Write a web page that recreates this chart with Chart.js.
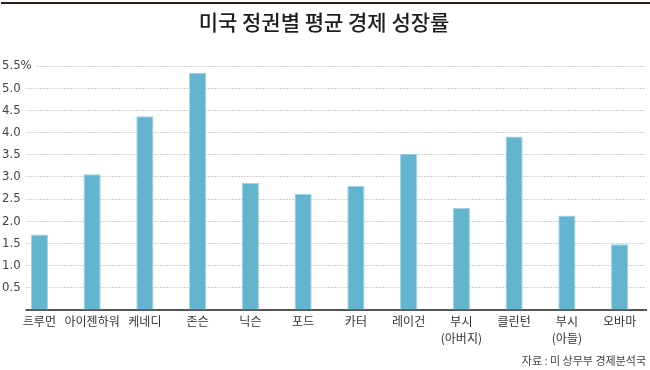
<!DOCTYPE html>
<html>
<head>
<meta charset="utf-8">
<script src="https://cdn.jsdelivr.net/npm/chart.js@4/dist/chart.umd.min.js"></script>
<style>
  body { margin: 0; background: #fff; }
  #wrap { position: relative; width: 650px; height: 370px; }
  #topline { position: absolute; left: 1px; right: 0; top: 2px; height: 2px; background: #2b1d17; }
</style>
</head>
<body>
<div id="wrap">
  <canvas id="mycanvas"></canvas>
  <div id="topline"></div>
</div>
<script>
// 정권별 평균 경제 성장률 (%)
var presidents = ['트루먼', '아이젠하워', '케네디', '존슨', '닉슨', '포드', '카터', '레이건',
	['부시', '(아버지)'], '클린턴', ['부시', '(아들)'], '오바마'];
var growth = [1.7, 3.06, 4.37, 5.35, 2.86, 2.62, 2.8, 3.52, 2.3, 3.91, 2.13, 1.48];
var yMax = 5.5;
var yStep = 0.5;
var titleText = '미국 정권별 평균 경제 성장률';
var sourceText = '자료 : 미 상무부 경제분석국';

var chartdata = {
	labels: presidents,
	datasets: [
		{
			label: '성장률',
			data: growth,
			backgroundColor: '#63b4cf',
			borderColor: '#9ed2e4',
			borderWidth: 1,
			categoryPercentage: 1,
			barPercentage: 0.325
		}
	]
};

var ctx = document.getElementById('mycanvas');
var BarGraph = new Chart(ctx, {
	type: 'bar',
	data: chartdata,
	options: {
		responsive: true,
		maintainAspectRatio: false,
		animation: false,
		layout: { padding: { left: 2, right: 4, top: 0, bottom: 0 } },
		plugins: {
			legend: { display: false },
			tooltip: { enabled: false },
			title: {
				display: true,
				text: titleText,
				color: '#1e1e1e',
				font: { family: '"Noto Sans CJK KR", sans-serif', size: 21, weight: 500, lineHeight: 1.2 },
				padding: { top: 9.9, bottom: 30.9 }
			},
			subtitle: {
				display: true,
				position: 'bottom',
				align: 'end',
				text: sourceText,
				color: '#444',
				font: { family: '"Noto Sans CJK KR", sans-serif', size: 11, lineHeight: 1.2 },
				padding: { top: 4.4, bottom: 2.8 }
			}
		},
		scales: {
			x: {
				grid: { display: false, drawTicks: false },
				border: { display: true, color: '#555', width: 2 },
				ticks: {
					color: '#333',
					padding: 3,
					maxRotation: 0,
					autoSkip: false,
					font: { family: '"Noto Sans CJK KR", sans-serif', size: 12, lineHeight: 1.4 }
				}
			},
			y: {
				min: 0,
				max: yMax,
				afterFit: function(scale) { scale.width = 11; },
				grid: {
					drawTicks: false,
					color: function(c) { return c.tick && c.tick.value === 0 ? 'rgba(0,0,0,0)' : '#d0d0d0'; },
					lineWidth: 1
				},
				border: { display: false, dash: [2, 1] },
				ticks: {
					stepSize: yStep,
					mirror: true,
					crossAlign: 'near',
					padding: -11,
					z: 1,
					color: '#444',
					showLabelBackdrop: true,
					backdropColor: '#fff',
					backdropPadding: { top: 3, bottom: 3, left: 0, right: 5 },
					font: { family: '"Liberation Sans Narrow", "DejaVu Sans Condensed", sans-serif', size: 13 },
					callback: function(value) {
						if (value === 0) return '     ';
						if (value === yMax) return value.toFixed(1) + '%';
						return value.toFixed(1);
					}
				}
			}
		}
	}
});
</script>
</body>
</html>
